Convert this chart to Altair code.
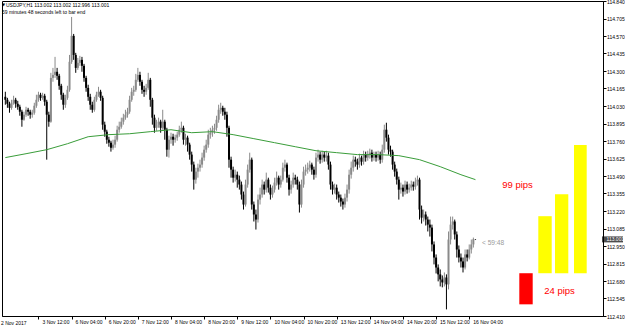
import altair as alt
import pandas as pd

FONT = "Liberation Sans"

# ---------------- data (prices) ----------------
first_open = 114.101
close = [
    114.078, 114.047, 114.016, 114.055, 114.078, 114.047, 114.024, 113.986, 113.924, 113.963,
    114.001, 113.986, 113.963, 113.978, 114.032, 114.078, 114.117, 114.093, 114.109, 114.063,
    113.963, 113.909, 114.247, 114.270, 114.294, 114.263, 114.186, 114.117, 114.040, 114.093,
    114.155, 114.371, 114.571, 114.424, 114.324, 114.363, 114.386, 114.340, 114.247, 114.170,
    114.101, 114.040, 114.001, 114.078, 114.117, 114.140, 114.093, 113.886, 113.832, 113.770,
    113.747, 113.708, 113.732, 113.770, 113.847, 113.870, 113.909, 113.940, 113.963, 113.986,
    114.078, 114.140, 114.155, 114.232, 114.270, 114.217, 114.155, 114.140, 114.170, 114.232,
    114.078, 113.940, 113.862, 113.886, 113.909, 113.862, 113.909, 113.847, 113.693, 113.770,
    113.793, 113.770, 113.786, 113.809, 113.847, 113.862, 113.770, 113.786, 113.732, 113.655,
    113.578, 113.462, 113.524, 113.554, 113.578, 113.632, 113.693, 113.732, 113.809, 113.824,
    113.847, 113.862, 113.924, 114.001, 114.016, 113.986, 113.963, 113.862, 113.616, 113.539,
    113.477, 113.500, 113.462, 113.424, 113.347, 113.270, 113.424, 113.539, 113.616, 113.270,
    113.193, 113.154, 113.308, 113.347, 113.424, 113.385, 113.462, 113.400, 113.347, 113.385,
    113.439, 113.477, 113.424, 113.462, 113.554, 113.578, 113.477, 113.385, 113.424, 113.477,
    113.462, 113.424, 113.270, 113.424, 113.524, 113.539, 113.554, 113.578, 113.539, 113.500,
    113.632, 113.655, 113.616, 113.655, 113.632, 113.647, 113.578, 113.424, 113.385, 113.400,
    113.347, 113.323, 113.293, 113.270, 113.323, 113.385, 113.500, 113.554, 113.616, 113.601,
    113.578, 113.632, 113.601, 113.655, 113.632, 113.655, 113.670, 113.632, 113.655, 113.632,
    113.655, 113.616, 113.693, 113.847, 113.786, 113.693, 113.678, 113.578, 113.524, 113.462,
    113.385, 113.400, 113.370, 113.424, 113.385, 113.400, 113.424, 113.408, 113.447, 113.462,
    113.231, 113.169, 113.193, 113.154, 113.115, 113.092, 112.962, 112.861, 112.784, 112.731,
    112.692, 112.669, 112.707, 112.654, 113.000, 113.115, 113.139, 113.039, 112.923, 112.861,
    112.831, 112.784, 112.885, 112.861, 112.923, 112.962, 113.002, 113.001,
]
high = [
    114.140, 114.093, 114.063, 114.078, 114.109, 114.093, 114.070, 114.040, 114.001, 113.986,
    114.024, 114.016, 114.001, 114.001, 114.055, 114.117, 114.140, 114.132, 114.132, 114.124,
    114.078, 113.986, 114.286, 114.324, 114.409, 114.324, 114.278, 114.201, 114.132, 114.117,
    114.186, 114.424, 114.717, 114.586, 114.440, 114.401, 114.417, 114.409, 114.355, 114.263,
    114.194, 114.124, 114.063, 114.101, 114.140, 114.178, 114.155, 114.109, 113.909, 113.847,
    113.793, 113.762, 113.770, 113.801, 113.878, 113.909, 113.940, 113.970, 114.001, 114.016,
    114.109, 114.170, 114.186, 114.278, 114.324, 114.294, 114.232, 114.186, 114.201, 114.286,
    114.247, 114.093, 113.963, 113.924, 113.940, 113.924, 114.001, 113.924, 113.862, 113.801,
    113.824, 113.816, 113.809, 113.832, 113.878, 113.909, 113.878, 113.816, 113.801, 113.747,
    113.678, 113.601, 113.554, 113.585, 113.616, 113.670, 113.724, 113.770, 113.847, 113.862,
    113.878, 113.893, 113.955, 114.040, 114.055, 114.032, 114.016, 113.986, 113.878, 113.639,
    113.562, 113.539, 113.524, 113.493, 113.447, 113.370, 113.462, 113.578, 113.670, 113.632,
    113.293, 113.231, 113.347, 113.400, 113.462, 113.447, 113.516, 113.477, 113.424, 113.416,
    113.477, 113.524, 113.493, 113.493, 113.593, 113.616, 113.593, 113.500, 113.454, 113.516,
    113.500, 113.485, 113.447, 113.462, 113.562, 113.578, 113.593, 113.608, 113.593, 113.562,
    113.670, 113.693, 113.678, 113.685, 113.678, 113.685, 113.670, 113.601, 113.447, 113.431,
    113.424, 113.370, 113.347, 113.316, 113.354, 113.424, 113.539, 113.601, 113.647, 113.639,
    113.624, 113.662, 113.647, 113.685, 113.678, 113.685, 113.701, 113.693, 113.678, 113.678,
    113.685, 113.678, 113.732, 113.886, 113.901, 113.809, 113.724, 113.693, 113.601, 113.547,
    113.485, 113.439, 113.424, 113.454, 113.447, 113.431, 113.454, 113.447, 113.477, 113.493,
    113.477, 113.262, 113.231, 113.216, 113.177, 113.154, 113.115, 112.985, 112.885, 112.808,
    112.769, 112.723, 112.746, 112.731, 113.062, 113.177, 113.177, 113.154, 113.062, 112.954,
    112.892, 112.861, 112.923, 112.923, 112.962, 113.000, 113.015, 113.002,
]
low = [
    114.040, 114.016, 113.978, 114.001, 114.040, 114.016, 114.001, 113.955, 113.870, 113.916,
    113.947, 113.955, 113.932, 113.940, 113.963, 114.016, 114.063, 114.070, 114.078, 114.032,
    113.616, 113.870, 113.901, 114.217, 114.247, 114.232, 114.155, 114.078, 114.001, 114.016,
    114.078, 114.140, 114.355, 114.386, 114.286, 114.309, 114.340, 114.294, 114.217, 114.140,
    114.070, 114.001, 113.978, 113.986, 114.063, 114.101, 114.070, 113.847, 113.793, 113.739,
    113.716, 113.678, 113.693, 113.708, 113.755, 113.824, 113.855, 113.886, 113.924, 113.940,
    113.970, 114.063, 114.109, 114.140, 114.217, 114.186, 114.124, 114.101, 114.117, 114.155,
    114.024, 113.886, 113.824, 113.839, 113.862, 113.824, 113.847, 113.770, 113.639, 113.632,
    113.739, 113.724, 113.747, 113.762, 113.793, 113.824, 113.732, 113.724, 113.678, 113.616,
    113.524, 113.385, 113.431, 113.477, 113.524, 113.554, 113.608, 113.670, 113.708, 113.778,
    113.793, 113.816, 113.839, 113.901, 113.970, 113.955, 113.924, 113.793, 113.554, 113.477,
    113.439, 113.447, 113.400, 113.385, 113.308, 113.231, 113.254, 113.400, 113.516, 113.231,
    113.139, 113.077, 113.131, 113.270, 113.323, 113.347, 113.362, 113.362, 113.308, 113.323,
    113.362, 113.416, 113.385, 113.400, 113.447, 113.524, 113.439, 113.339, 113.354, 113.400,
    113.424, 113.385, 113.208, 113.246, 113.400, 113.493, 113.508, 113.524, 113.500, 113.462,
    113.477, 113.601, 113.585, 113.593, 113.601, 113.601, 113.539, 113.385, 113.347, 113.354,
    113.308, 113.285, 113.254, 113.231, 113.246, 113.293, 113.354, 113.470, 113.524, 113.562,
    113.539, 113.554, 113.570, 113.578, 113.601, 113.608, 113.624, 113.601, 113.608, 113.601,
    113.608, 113.585, 113.593, 113.670, 113.755, 113.655, 113.639, 113.539, 113.485, 113.424,
    113.308, 113.354, 113.331, 113.347, 113.354, 113.362, 113.377, 113.377, 113.385, 113.416,
    113.154, 113.123, 113.139, 113.108, 113.062, 113.023, 112.908, 112.808, 112.738, 112.677,
    112.638, 112.631, 112.638, 112.461, 112.615, 112.962, 113.077, 113.000, 112.861, 112.823,
    112.784, 112.746, 112.769, 112.831, 112.846, 112.892, 112.938, 112.996,
]

# moving average (green) read at selected bars
ma_bar = [0, 10, 20, 30, 40, 50, 60, 70, 80, 90, 100, 110, 120, 130, 140, 150, 160, 170,
          180, 190, 200, 210, 220, 227]
ma_val = [113.632, 113.662, 113.693, 113.739, 113.793, 113.809, 113.816, 113.832, 113.847,
          113.824, 113.832, 113.809, 113.778, 113.747, 113.716, 113.685, 113.670, 113.655,
          113.655, 113.647, 113.616, 113.562, 113.500, 113.462]

# time axis
time_bars = [16, 32, 48, 64, 80, 96, 112, 128, 144, 160, 176, 192, 208, 224]
time_labels = ["3 Nov 12:00", "6 Nov 04:00", "6 Nov 20:00", "7 Nov 12:00", "8 Nov 04:00",
               "8 Nov 20:00", "9 Nov 12:00", "10 Nov 04:00", "10 Nov 20:00", "13 Nov 12:00",
               "14 Nov 04:00", "14 Nov 20:00", "15 Nov 12:00", "16 Nov 04:00"]
first_label = "2 Nov 2017"

# price axis
price_ticks = [112.410, 112.545, 112.680, 112.815, 112.950, 113.085, 113.220, 113.355,
               113.490, 113.625, 113.760, 113.895, 114.030, 114.165, 114.300, 114.435,
               114.570, 114.705, 114.840]

# pip range boxes
red_box = [112.50, 112.74]
yellow_low = 112.74
yellow_tops = [113.18, 113.35, 113.73]
pip_texts = ["99 pips", "24 pips"]

symbol = "USDJPY,H1"
timer_text = "59 minutes 48 seconds left to bar end"
timer_short = "< 59:48"

# ---------------- build ----------------
opens = [first_open] + close[:-1]
df = pd.DataFrame({
    "i": list(range(len(close))),
    "open": opens, "high": high, "low": low, "close": close,
    "dir": ["up" if c >= o else "down" for o, c in zip(opens, close)],
})
ma_df = pd.DataFrame({"i": ma_bar, "ma": ma_val})

W, H = 601, 315
xs = alt.Scale(domain=[0.807, 286.18], nice=False, zero=False)
ys = alt.Scale(domain=[112.41, 114.84], nice=False, zero=False)

label_expr = ""
for v, t in zip(time_bars, time_labels):
    label_expr += f"datum.value == {v} ? '{t}' : "
label_expr += "''"

x_axis = alt.Axis(values=time_bars, labelExpr=label_expr, title=None, grid=False,
                  labelAlign="left", labelOffset=3.5, labelBaseline="top", labelPadding=0.5,
                  tickSize=3, labelFlush=False, labelOverlap=False, labelFontSize=5,
                  labelFont=FONT, labelColor="#000", tickColor="#000", domainColor="#000")
y_axis = alt.Axis(values=price_ticks, format=".3f", orient="right", title=None, grid=False,
                  tickSize=3, labelPadding=0.5, labelFontSize=5, labelFont=FONT,
                  labelColor="#000", tickColor="#000", domainColor="#000",
                  labelOverlap=False, labelBound=False, labelFlush=False, labelSeparation=0)

col = alt.Color("dir:N", scale=alt.Scale(domain=["up", "down"], range=["#6e6e6e", "#000000"]),
                legend=None)
wick_col = alt.Color("dir:N", scale=alt.Scale(domain=["up", "down"], range=["#8a8a8a", "#000000"]),
                     legend=None)

X = lambda f: alt.X(f, scale=xs, axis=x_axis)
Y = lambda f: alt.Y(f, scale=ys, axis=y_axis)

base = alt.Chart(df)
wicks = base.mark_rule(strokeWidth=1).encode(
    x=X("i:Q"), y=Y("low:Q"), y2="high:Q", color=wick_col)
bodies = base.mark_bar(size=2).encode(
    x=X("i:Q"), y=Y("open:Q"), y2="close:Q", color=col)
ma_line = alt.Chart(ma_df).mark_line(color="#3a9d3a", strokeWidth=1).encode(
    x=X("i:Q"), y=Y("ma:Q"))

layers = [wicks, bodies, ma_line]

# red range box
layers.append(alt.Chart(pd.DataFrame({"lo": [red_box[0]], "hi": [red_box[1]]}))
              .mark_rect(color="#ff0000")
              .encode(x=alt.value(517.3), x2=alt.value(530.7), y=Y("lo:Q"), y2="hi:Q"))
yellow_x = [(536.3, 549.7), (553.0, 566.3), (572.0, 584.7)]
for (x0, x1), top in zip(yellow_x, yellow_tops):
    layers.append(alt.Chart(pd.DataFrame({"lo": [yellow_low], "hi": [top]}))
                  .mark_rect(color="#ffff00")
                  .encode(x=alt.value(x0), x2=alt.value(x1), y=Y("lo:Q"), y2="hi:Q"))

def text_layer(txt, x, y, size, color="#000", align="left", font=FONT):
    return (alt.Chart(pd.DataFrame({"t": [txt]}))
            .mark_text(align=align, baseline="middle", fontSize=size, font=font, color=color)
            .encode(x=alt.value(x), y=alt.value(y), text="t:N"))

layers.append(text_layer(pip_texts[0], 515.5, 184, 9.5, color="#ff0000", align="center"))
layers.append(text_layer(pip_texts[1], 557.5, 290, 9.5, color="#ff0000", align="center"))
layers.append(text_layer(timer_short, 480, 242, 6.6, color="#9a9a9a"))

header = f"{symbol}  {opens[-1]:.3f} {high[-1]:.3f} {low[-1]:.3f} {close[-1]:.3f}"
layers.append(text_layer("\u25BC", 0, 4, 4, font="DejaVu Sans"))
layers.append(text_layer(header, 4, 4, 5))
layers.append(text_layer(timer_text, 0, 11.3, 5))
layers.append(text_layer(first_label, -1, 321.5, 5))

# current price marker on the price scale
layers.append(alt.Chart(pd.DataFrame({"p": [close[-1]]}))
              .mark_tick(orient="horizontal", thickness=6, size=21, color="#000")
              .encode(x=alt.value(610.5), y=Y("p:Q")))
layers.append(alt.Chart(pd.DataFrame({"p": [close[-1]], "t": [f"{close[-1]:.3f}"]}))
              .mark_text(align="left", baseline="middle", fontSize=5, font=FONT, color="#fff")
              .encode(x=alt.value(604.5), y=Y("p:Q"), text="t:N"))

chart = alt.layer(*layers).properties(
    width=W, height=H,
    autosize=alt.AutoSizeParams(type="none"),
    padding={"left": 2, "top": 1, "right": 22, "bottom": 13},
    background="#ffffff",
).configure_view(stroke="#000", strokeWidth=1).configure_axis(labelOverlap=False)

chart.save("out.html", embed_options={"renderer": "svg", "actions": False})
